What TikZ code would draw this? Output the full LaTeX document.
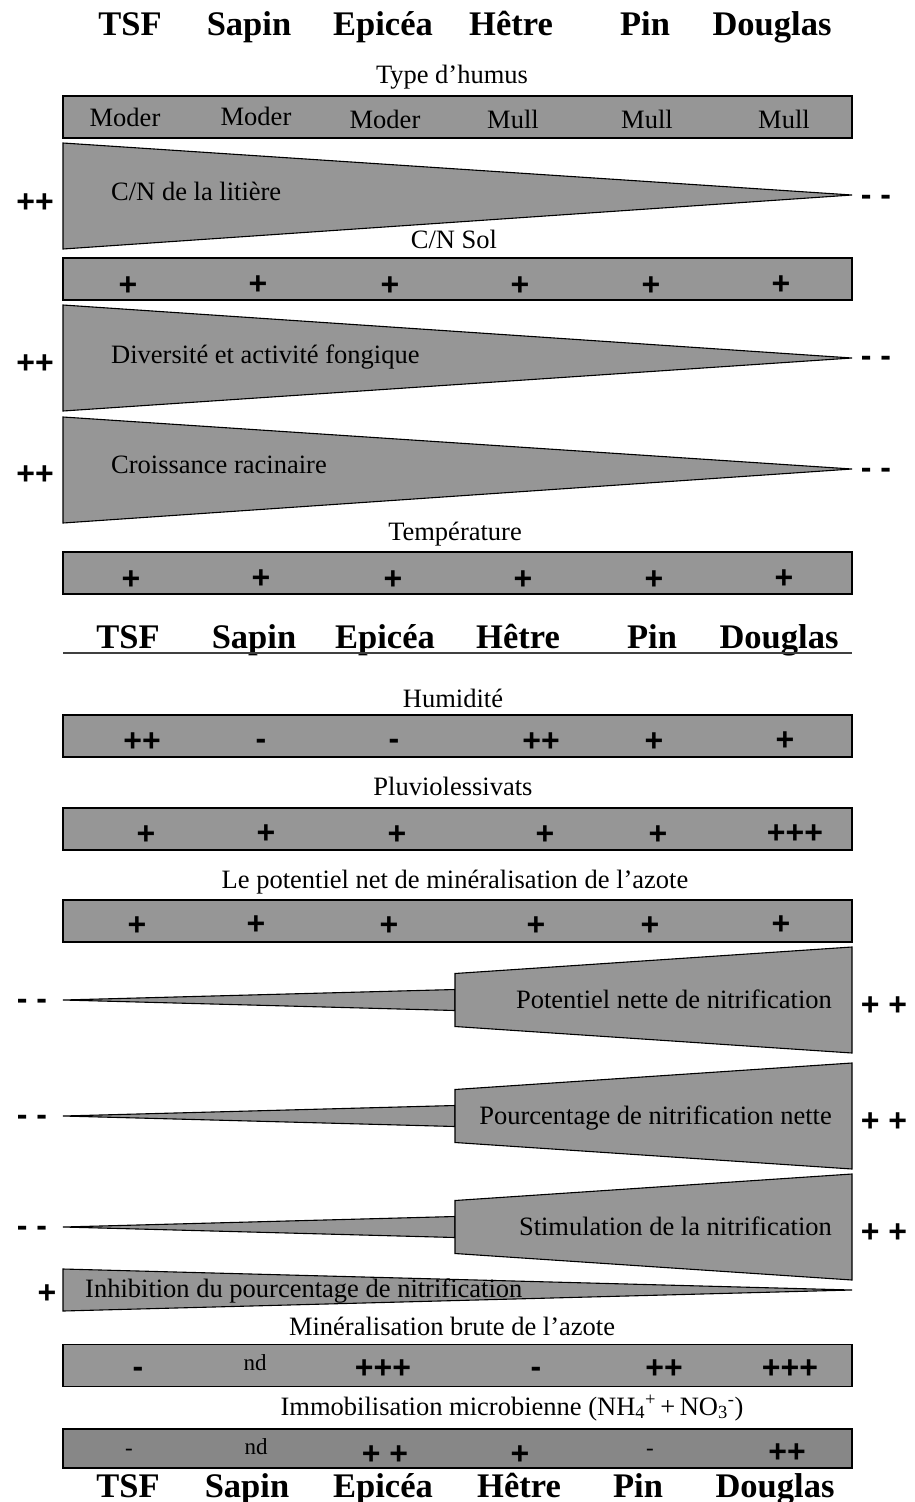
\documentclass[tikz,border=0pt]{standalone}
\usepackage{fontspec}
\setmainfont{Liberation Serif}
\newfontfamily\arialfont{Liberation Sans}
\definecolor{gbar}{RGB}{150,150,150}
\definecolor{gdark}{RGB}{135,135,135}
\begin{document}
\begin{tikzpicture}[x=1pt,y=-1pt,
  bar/.style={draw=black,fill=gbar,line width=1.3pt,minimum width=789pt,minimum height=42pt,inner sep=0pt},
  wedge/.style={draw=black,fill=gbar,line width=1.1pt,line join=miter},
  lbl/.style={font=\fontsize{26.5}{28}\selectfont,inner sep=0pt,anchor=base},
  small/.style={font=\fontsize{23}{25}\selectfont,inner sep=0pt,anchor=base},
  sgn/.style={font=\arialfont\bfseries\fontsize{32}{34}\selectfont,inner sep=0pt,anchor=base},
  hdr/.style={font=\bfseries\fontsize{34.5}{36}\selectfont,inner sep=0pt,anchor=base}]
\useasboundingbox (0,0) rectangle (914,1502);
% top header
\foreach \n/\x/\t in {h1/130/TSF,h2/249/Sapin,h3/383/Epicéa,h4/511/Hêtre,h5/645/Pin,h6/772/Douglas}
  \node[hdr] (top\n) at (\x,35) {\t};
% Type d'humus
\node[lbl] (thum) at (452,83) {Type d’humus};
\node[bar] (b1) at (457.5,117) {};
\foreach \n/\x/\y/\t in {a/125/126/Moder,b/256/125/Moder,c/385/128/Moder,d/513/128/Mull,e/647/128/Mull,f/784/128/Mull}
  \node[lbl] (b1\n) at (\x,\y) {\t};
% C/N litiere
\draw[wedge] (63,143) -- (852,195) -- (63,249) -- cycle;
\node[lbl,anchor=base west] (cnl) at (111,200) {C/N de la litière};
\node[sgn] (cnlp) at (35,212) {++};
\node[sgn] (cnlm) at (876,205) {- -};
\node[lbl] (cns) at (454,248) {C/N Sol};
\node[bar] (b2) at (457.5,279) {};
\foreach \n/\x/\y in {a/128/295,b/258/294,c/390/295,d/520/295,e/651/295,f/781/294}
  \node[sgn] (b2\n) at (\x,\y) {+};
% Diversite
\draw[wedge] (63,305) -- (852,358) -- (63,411) -- cycle;
\node[lbl,anchor=base west] (div) at (111,363) {Diversité et activité fongique};
\node[sgn] (divp) at (35,373) {++};
\node[sgn] (divm) at (876,366) {- -};
% Croissance
\draw[wedge] (63,417) -- (852,469) -- (63,523) -- cycle;
\node[lbl,anchor=base west] (cro) at (111,473) {Croissance racinaire};
\node[sgn] (crop) at (35,484) {++};
\node[sgn] (crom) at (876,478) {- -};
% Temperature
\node[lbl] (tem) at (455,540) {Température};
\node[bar] (b4) at (457.5,573) {};
\foreach \n/\x/\y in {a/131/589,b/261/588,c/393/589,d/523/589,e/654/589,f/784/588}
  \node[sgn] (b4\n) at (\x,\y) {+};
% second header
\foreach \n/\x/\t in {h1/128/TSF,h2/254/Sapin,h3/385/Epicéa,h4/518/Hêtre,h5/652/Pin,h6/779/Douglas}
  \node[hdr] (mid\n) at (\x,648) {\t};
\coordinate (ulA) at (63,653);
\coordinate (ulB) at (852,653);
\draw[line width=1.6pt,black!75] (ulA) -- (ulB);
% Humidite
\node[lbl] (hum) at (453,707) {Humidité};
\node[bar] (b5) at (457.5,736) {};
\node[sgn] (b5a) at (142,751) {++};
\node[sgn] (b5b) at (261,749) {-};
\node[sgn] (b5c) at (394,749) {-};
\node[sgn] (b5d) at (541,751) {++};
\node[sgn] (b5e) at (654,751) {+};
\node[sgn] (b5f) at (785,750) {+};
% Pluviolessivats
\node[lbl] (plu) at (453,795) {Pluviolessivats};
\node[bar] (b6) at (457.5,829) {};
\foreach \n/\x/\y/\t in {a/146/844/+,b/266/843/+,c/397/844/+,d/545/844/+,e/658/844/+,f/795/843/+++}
  \node[sgn] (b6\n) at (\x,\y) {\t};
% potentiel net
\node[lbl] (pot) at (455,888) {Le potentiel net de minéralisation de l’azote};
\node[bar] (b7) at (457.5,921) {};
\foreach \n/\x/\y in {a/137/935,b/256/934,c/389/935,d/536/935,e/650/935,f/781/934}
  \node[sgn] (b7\n) at (\x,\y) {+};
% nitrification wedges
\foreach \n/\c/\t in {pn/1000/Potentiel nette de nitrification,pc/1116/Pourcentage de nitrification nette,st/1227/Stimulation de la nitrification}{
  \draw[wedge] (63,\c) -- (455,\c-10.5) -- (455,\c+10.5) -- cycle;
  \draw[wedge] (455,\c-26.5) -- (852,\c-53) -- (852,\c+53) -- (455,\c+26.5) -- cycle;
  \node[lbl,anchor=base east] (\n) at (832,\c+8) {\t};
  \node[sgn] (\n m) at (32,\c+9) {- -};
  \node[sgn] (\n p) at (884,\c+15) {+ +};
}
% Inhibition
\draw[wedge] (63,1269) -- (852,1290) -- (63,1311) -- cycle;
\node[lbl,anchor=base west] (inh) at (85,1297) {Inhibition du pourcentage de nitrification};
\node[sgn] (inhp) at (47,1303) {+};
% Mineralisation brute
\node[lbl] (min) at (452,1335) {Minéralisation brute de l’azote};
\node[bar] (b8) at (457.5,1365.5) {};
\node[sgn] (b8a) at (138,1377) {-};
\node[small] (b8b) at (255,1370) {nd};
\node[sgn] (b8c) at (383,1378) {+++};
\node[sgn] (b8d) at (536,1377) {-};
\node[sgn] (b8e) at (664,1378) {++};
\node[sgn] (b8f) at (790,1378) {+++};
% Immobilisation
\node[lbl] (imm) at (512,1415) {Immobilisation microbienne (NH\textsubscript{4}\textsuperscript{+}\,+\,NO\textsubscript{3}\textsuperscript{-})};
\node[bar,fill=gdark,minimum height=39pt] (b9) at (457.5,1448.5) {};
\node[small] (b9a) at (129,1455) {-};
\node[small] (b9b) at (256,1454) {nd};
\node[sgn] (b9c) at (385,1464) {+ +};
\node[sgn] (b9d) at (520,1464) {+};
\node[small] (b9e) at (650,1455) {-};
\node[sgn] (b9f) at (787,1462) {++};
% bottom header
\foreach \n/\x/\t in {h1/128/TSF,h2/247/Sapin,h3/383/Epicéa,h4/519/Hêtre,h5/638/Pin,h6/775/Douglas}
  \node[hdr] (bot\n) at (\x,1497) {\t};
\end{tikzpicture}
\end{document}
